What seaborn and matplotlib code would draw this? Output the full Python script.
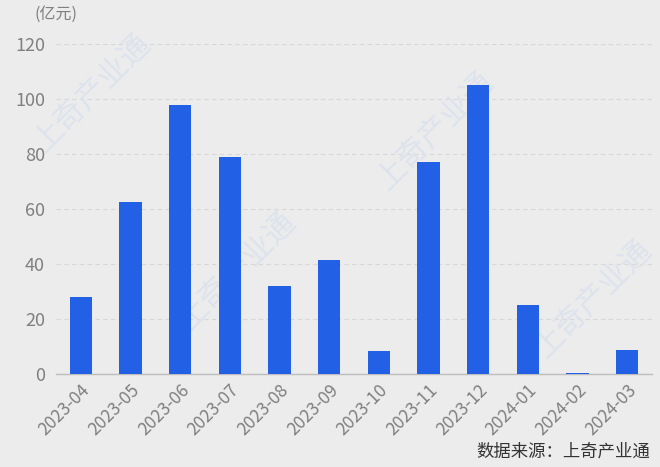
import pandas as pd
import matplotlib.pyplot as plt
import seaborn as sns

# monthly values (亿元)
months = ['2023-04', '2023-05', '2023-06', '2023-07', '2023-08', '2023-09',
          '2023-10', '2023-11', '2023-12', '2024-01', '2024-02', '2024-03']
values = [28, 62.5, 97.8, 79, 32, 41.5, 8.4, 77, 105, 25, 0.3, 8.7]
yticks = [0, 20, 40, 60, 80, 100, 120]

df = pd.DataFrame({'month': months, 'value': values})

sns.set_theme(style='white')
plt.rcParams['font.family'] = ['Noto Sans CJK SC', 'DejaVu Sans']

bg = '#ececec'
fig = plt.figure(figsize=(6.6, 4.67), dpi=100, facecolor=bg)
ax = fig.add_axes([0.085, 0.199, 0.903, 0.707], facecolor=bg)

sns.barplot(data=df, x='month', y='value', color='#2260e6', saturation=1,
            width=0.45, linewidth=0, ax=ax, zorder=3)

# faint watermark, kept under the bars
for x, y in [(0.14, 0.8), (0.36, 0.42), (0.66, 0.72), (0.9, 0.36)]:
    ax.text(x, y, '上奇产业通', color='#dde3ec', fontsize=22, rotation=45,
            ha='center', va='center', transform=fig.transFigure,
            zorder=1, clip_on=False)

ax.set_ylim(0, 120)
ax.set_yticks(yticks)
ax.set_xlim(-0.5, len(months) - 0.5)
ax.yaxis.grid(True, linestyle=(0, (4, 3)), color='#d8d8d8', linewidth=0.8, zorder=0)
ax.set_axisbelow(True)
for s in ['top', 'right', 'left']:
    ax.spines[s].set_visible(False)
ax.spines['bottom'].set_color('#bdbdbd')
ax.spines['bottom'].set_linewidth(1)
ax.tick_params(axis='both', length=0, colors='#808080')
ax.tick_params(axis='y', pad=8, labelsize=13)
ax.tick_params(axis='x', pad=5, labelsize=12.5)
plt.setp(ax.get_xticklabels(), rotation=45, ha='right', rotation_mode='anchor')
ax.set_xlabel('')
ax.set_ylabel('')

fig.text(0.053, 0.97, '(亿元)', color='#808080', fontsize=11.5, ha='left', va='center')
fig.text(0.985, 0.032, '数据来源：上奇产业通', color='#333333', fontsize=12.5,
         ha='right', va='center')

fig.savefig('out.png', dpi=100, facecolor=bg)
